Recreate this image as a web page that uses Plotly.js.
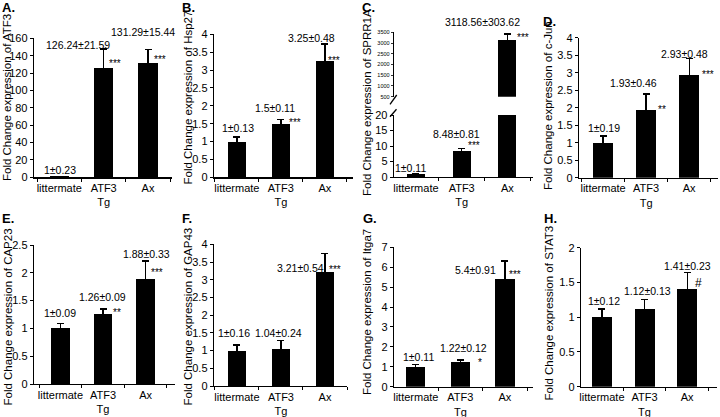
<!DOCTYPE html>
<html>
<head>
<meta charset="utf-8">
<script src="https://cdn.plot.ly/plotly-3.0.1.min.js"></script>
<style>html,body{margin:0;padding:0;background:#fff;}#chart{width:720px;height:417px;}</style>
</head>
<body>
<div id="chart"></div>
<script>
// ---------- data ----------
const categories = ['littermate', 'ATF3<br>Tg', 'Ax'];
const genes = ['ATF3', 'Hsp27', 'SPRR1A', 'c-Jun', 'CAP23', 'GAP43', 'Itga7', 'STAT3'];
const panelLetters = ['A.', 'B.', 'C.', 'D.', 'E.', 'F.', 'G.', 'H.'];

const atf3Mean = [1, 126.24, 131.29];
const atf3Err = [0.23, 21.59, 15.44];
const atf3Sig = ['', '***', '***'];

const hsp27Mean = [1, 1.5, 3.25];
const hsp27Err = [0.13, 0.11, 0.48];
const hsp27Sig = ['', '***', '***'];

const sprr1aMean = [1, 8.48, 3118.56];
const sprr1aErr = [0.11, 0.81, 303.62];
const sprr1aSig = ['', '***', '***'];

const cjunMean = [1, 1.93, 2.93];
const cjunErr = [0.19, 0.46, 0.48];
const cjunSig = ['', '**', '***'];

const cap23Mean = [1, 1.26, 1.88];
const cap23Err = [0.09, 0.09, 0.33];
const cap23Sig = ['', '**', '***'];

const gap43Mean = [1, 1.04, 3.21];
const gap43Err = [0.16, 0.24, 0.54];
const gap43Sig = ['', '', '***'];

const itga7Mean = [1, 1.22, 5.4];
const itga7Err = [0.11, 0.12, 0.91];
const itga7Sig = ['', '*', '***'];

const stat3Mean = [1, 1.12, 1.41];
const stat3Err = [0.12, 0.13, 0.23];
const stat3Sig = ['', '', '#'];

const means = [atf3Mean, hsp27Mean, sprr1aMean, cjunMean, cap23Mean, gap43Mean, itga7Mean, stat3Mean];
const errs = [atf3Err, hsp27Err, sprr1aErr, cjunErr, cap23Err, gap43Err, itga7Err, stat3Err];
const sigs = [atf3Sig, hsp27Sig, sprr1aSig, cjunSig, cap23Sig, gap43Sig, itga7Sig, stat3Sig];

// ---------- layout geometry (pixels in 720x417 page) ----------
const W = 720, H = 417;
const px = x => x / W;
const py = y => 1 - y / H;

const boxes = [
  {l:34,  r:172, t:38.3,  b:177.3, yMax:160, dtick:20,  xr:[-0.57,2.54], bw:0.44, tx:7,   ty:98,    lx:0,   ly:7},
  {l:214, r:353, t:34.3,  b:177.3, yMax:4,   dtick:0.5, xr:[-0.52,2.64], bw:0.40, tx:187, ty:97.5,  lx:180, ly:7},
  {l:394, r:533, t:115,   b:177,   yMax:20,  dtick:5,   xr:[-0.48,2.56], bw:0.39, tx:367, ty:103,   lx:360, ly:7.5},
  {l:579, r:718, t:37.7,  b:177.7, yMax:4,   dtick:0.5, xr:[-0.56,2.67], bw:0.47, tx:548, ty:106,   lx:541, ly:21.5},
  {l:34,  r:175, t:245,   b:384,   yMax:2.5, dtick:0.5, xr:[-0.62,2.69], bw:0.44, tx:7,   ty:317.5, lx:0,   ly:218.5},
  {l:214, r:347, t:244.3, b:386,   yMax:4,   dtick:0.5, xr:[-0.52,2.50], bw:0.42, tx:187, ty:316.5, lx:180, ly:218},
  {l:394, r:533, t:247.3, b:386.7, yMax:7,   dtick:1,   xr:[-0.49,2.63], bw:0.43, tx:367, ty:312,   lx:361, ly:218.5},
  {l:581, r:717, t:247.7, b:386.7, yMax:2,   dtick:0.5, xr:[-0.49,2.70], bw:0.47, tx:548, ty:313.5, lx:542, ly:218.5}
];
// upper (broken) part of panel C
const cUpper = {t:32.3, b:96.7, range:[500, 3500], dtick:500};

// label offsets in px: [dx from bar centre, dy above error-bar top]
const labelOffsets = [
  [[0.6,6],[-26,4],[-5.5,17.5]],
  [[1,8.6],[-5.7,11.4],[-13.7,6]],
  [[-5,5.3],[-5.4,14],[-25,12.3]],
  [[0.7,8.3],[-13,10.7],[-4.3,4]],
  [[-0.5,10],[-0.7,12.2],[1.2,7]],
  [[-3,12],[-2,8],[-24.2,-15]],
  [[2.3,8],[2.8,11.7],[-29.2,-9]],
  [[2,8.2],[2.5,8.8],[0.5,6.7]]
];
// significance marks: [dx of left edge from bar centre, dy above bar top]
const sigOffsets = [
  [null,[4.6,7.6],[4.7,6.5]],
  [null,[7.3,3.7],[1.7,3.4]],
  [null,[5.6,8],[8.5,6]],
  [null,[11.3,4],[11.7,4]],
  [null,[8.7,4],[4.5,10]],
  [null,null,[3.3,5.7]],
  [null,[16.8,3.4],[3.3,8]],
  [null,null,[7,6.4]]
];

const FONT = 'Arial, "Liberation Sans", sans-serif';
const traces = [];
const annotations = [];
const shapes = [];
const layout = {
  width: W, height: H,
  margin: {l:0, r:0, t:0, b:0},
  paper_bgcolor: '#ffffff', plot_bgcolor: '#ffffff',
  showlegend: false,
  font: {family: FONT, size: 11, color: '#000'},
  bargap: 0
};

function fmt(v) { return String(v); }

boxes.forEach((bx, i) => {
  const n = i + 1;
  const xa = 'x' + n, ya = 'y' + n;
  layout['xaxis' + n] = {
    domain: [px(bx.l), px(bx.r)], anchor: ya, type: 'category',
    range: bx.xr, showline: true, linecolor: '#000', linewidth: 1.3,
    ticks: 'outside', tickson: 'boundaries', ticklen: 3, tickcolor: '#000', tickwidth: 1,
    tickangle: 0, automargin: false,
    showgrid: false, zeroline: false, fixedrange: true,
    tickfont: {family: FONT, size: 11, color: '#000'}
  };
  layout['yaxis' + n] = {
    domain: [py(bx.b), py(bx.t)], anchor: xa,
    range: [0, bx.yMax], dtick: bx.dtick, tick0: 0,
    showline: true, linecolor: '#000', linewidth: 1.3,
    ticks: 'outside', ticklen: 3, tickcolor: '#000', tickwidth: 1,
    automargin: false,
    showgrid: false, zeroline: false, fixedrange: true,
    tickfont: {family: FONT, size: 11, color: '#000'}
  };
  traces.push({
    type: 'bar', x: categories, y: means[i], xaxis: xa, yaxis: ya,
    width: bx.bw, marker: {color: '#000', line: {width: 0}},
    error_y: {type: 'data', array: errs[i], visible: true, color: '#000', thickness: 1.3, width: 3.5},
    hoverinfo: 'skip'
  });

  // y-axis title
  annotations.push({
    xref: 'paper', yref: 'paper', x: px(bx.tx), y: py(bx.ty), xanchor: 'center', yanchor: 'middle',
    text: 'Fold Change expression of ' + genes[i], textangle: -90, showarrow: false,
    font: {family: FONT, size: 11.5, color: '#000'}
  });
  // panel letter
  annotations.push({
    xref: 'paper', yref: 'paper', x: px(bx.lx), y: py(bx.ly), xanchor: 'left', yanchor: 'middle',
    text: '<b>' + panelLetters[i] + '</b>', showarrow: false,
    font: {family: FONT, size: 13, color: '#000'}
  });
});

// upper part of panel C (axis break)
layout.yaxis9 = {
  domain: [py(cUpper.b), py(cUpper.t)], anchor: 'x3',
  range: cUpper.range, dtick: cUpper.dtick, tick0: 500,
  showline: true, linecolor: '#000', linewidth: 1.3,
  ticks: 'outside', ticklen: 2, tickcolor: '#000', tickwidth: 0.8,
  automargin: false,
  showgrid: false, zeroline: false, fixedrange: true,
  tickfont: {family: FONT, size: 5.5, color: '#000'}
};
traces.push({
  type: 'bar', x: categories, y: sprr1aMean, xaxis: 'x3', yaxis: 'y9',
  width: boxes[2].bw, marker: {color: '#000', line: {width: 0}},
  error_y: {type: 'data', array: sprr1aErr, visible: true, color: '#000', thickness: 1.3, width: 3.5},
  hoverinfo: 'skip'
});
// break marks
[[390, 104.3, 396.7, 95], [390, 116.7, 396.5, 109.3]].forEach(s => {
  shapes.push({type: 'line', xref: 'paper', yref: 'paper', x0: px(s[0]), y0: py(s[1]), x1: px(s[2]), y1: py(s[3]),
    line: {color: '#000', width: 1.3}});
});

// value labels and significance marks
means.forEach((m, i) => {
  const n = i + 1;
  m.forEach((v, j) => {
    const useUpper = (i === 2 && j === 2);
    const yref = useUpper ? 'y9' : 'y' + n;
    const off = labelOffsets[i][j];
    annotations.push({
      xref: 'x' + n, yref: yref, x: categories[j], y: v + errs[i][j],
      xanchor: 'center', yanchor: 'middle', xshift: off[0], yshift: off[1],
      text: fmt(v) + '±' + fmt(errs[i][j]), showarrow: false,
      font: {family: FONT, size: 10.5, color: '#000'}
    });
    const s = sigs[i][j];
    if (s) {
      const so = sigOffsets[i][j];
      const isHash = s === '#';
      annotations.push({
        xref: 'x' + n, yref: yref, x: categories[j], y: v,
        xanchor: 'left', yanchor: 'middle', xshift: so[0] - 1, yshift: so[1] - (isHash ? 1 : 3),
        text: s, showarrow: false,
        font: {family: FONT, size: isHash ? 12 : 10, color: '#000'}
      });
    }
  });
});

layout.annotations = annotations;
layout.shapes = shapes;

Plotly.newPlot('chart', traces, layout, {staticPlot: true, displayModeBar: false});
</script>
</body>
</html>
